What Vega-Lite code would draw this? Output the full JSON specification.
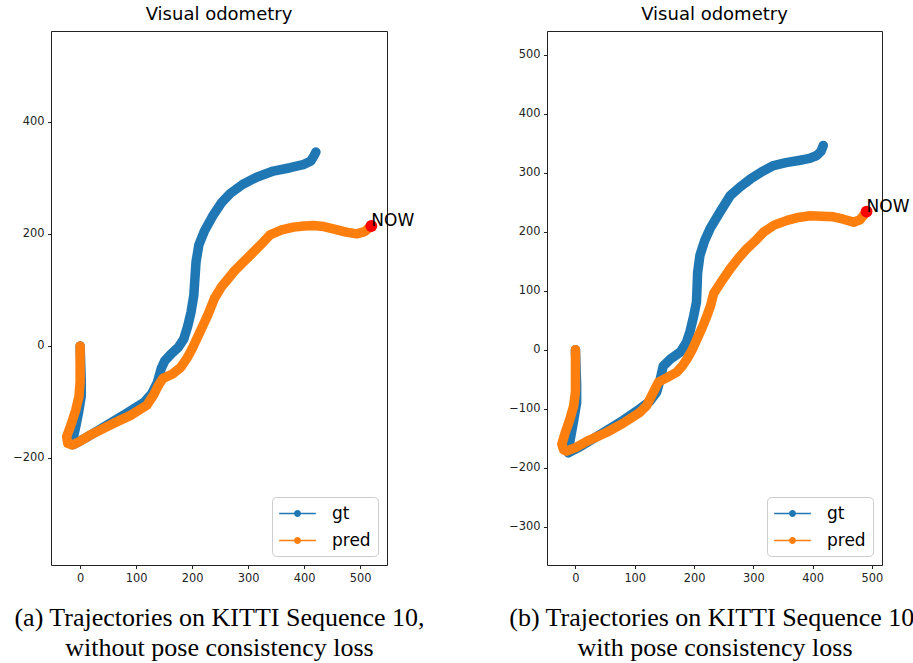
{
  "$schema": "https://vega.github.io/schema/vega-lite/v6.json",
  "autosize": {"type": "pad"},
  "padding": {"left": 12, "top": 5, "right": 0, "bottom": 0},
  "background": "white",
  "config": {
    "font": "DejaVu Sans",
    "view": {"stroke": "#222", "strokeWidth": 1},
    "axis": {
      "grid": false, "domain": false,
      "labelFont": "DejaVu Sans", "labelFontSize": 11.4, "labelColor": "#222",
      "tickColor": "#222", "tickSize": 3.5, "labelPadding": 3.5,
      "labelFlush": false, "labelOverlap": false,
      "titleFont": "Liberation Serif", "titleFontSize": 26, "titleFontWeight": "normal",
      "titleColor": "black", "titleLineHeight": 30, "titlePadding": 21
    },
    "title": {"font": "DejaVu Sans", "fontSize": 18, "fontWeight": "normal", "color": "black", "anchor": "middle", "baseline": "alphabetic", "offset": 7, "frame": "group"},
    "legend": {
      "orient": "bottom-right", "offset": 9, "title": null,
      "symbolType": "M-2.16,0H2.16M0.306,0A0.306,0.306,0,1,1,-0.306,0A0.306,0.306,0,1,1,0.306,0M0.106,0A0.106,0.106,0,1,1,-0.106,0A0.106,0.106,0,1,1,0.106,0",
      "symbolSize": 289, "symbolStrokeWidth": 1.7, "symbolOffset": 9,
      "labelFont": "DejaVu Sans", "labelFontSize": 17, "labelColor": "black", "labelOffset": 25,
      "padding": 7, "rowPadding": 9,
      "strokeColor": "#cccccc", "fillColor": "rgba(255,255,255,0.8)", "cornerRadius": 4
    }
  },
  "datasets": {
    "trajA": [
      {"i": 0, "series": "gt", "x": 0, "y": 0},
      {"i": 1, "series": "gt", "x": 1, "y": -30},
      {"i": 2, "series": "gt", "x": 2, "y": -60},
      {"i": 3, "series": "gt", "x": 2, "y": -90},
      {"i": 4, "series": "gt", "x": -3, "y": -120},
      {"i": 5, "series": "gt", "x": -8, "y": -145},
      {"i": 6, "series": "gt", "x": -13, "y": -168},
      {"i": 7, "series": "gt", "x": -12, "y": -176},
      {"i": 8, "series": "gt", "x": 10, "y": -164},
      {"i": 9, "series": "gt", "x": 40, "y": -146},
      {"i": 10, "series": "gt", "x": 80, "y": -122},
      {"i": 11, "series": "gt", "x": 115, "y": -100},
      {"i": 12, "series": "gt", "x": 128, "y": -85},
      {"i": 13, "series": "gt", "x": 138, "y": -65},
      {"i": 14, "series": "gt", "x": 145, "y": -40},
      {"i": 15, "series": "gt", "x": 151, "y": -27},
      {"i": 16, "series": "gt", "x": 162, "y": -15},
      {"i": 17, "series": "gt", "x": 175, "y": -3},
      {"i": 18, "series": "gt", "x": 185, "y": 12},
      {"i": 19, "series": "gt", "x": 192, "y": 35},
      {"i": 20, "series": "gt", "x": 198, "y": 60},
      {"i": 21, "series": "gt", "x": 203, "y": 90},
      {"i": 22, "series": "gt", "x": 205, "y": 120},
      {"i": 23, "series": "gt", "x": 207, "y": 150},
      {"i": 24, "series": "gt", "x": 212, "y": 180},
      {"i": 25, "series": "gt", "x": 222, "y": 205},
      {"i": 26, "series": "gt", "x": 238, "y": 234},
      {"i": 27, "series": "gt", "x": 252, "y": 255},
      {"i": 28, "series": "gt", "x": 268, "y": 272},
      {"i": 29, "series": "gt", "x": 290, "y": 288},
      {"i": 30, "series": "gt", "x": 315, "y": 301},
      {"i": 31, "series": "gt", "x": 345, "y": 312},
      {"i": 32, "series": "gt", "x": 375, "y": 318},
      {"i": 33, "series": "gt", "x": 400, "y": 324},
      {"i": 34, "series": "gt", "x": 412, "y": 330},
      {"i": 35, "series": "gt", "x": 418, "y": 340},
      {"i": 36, "series": "gt", "x": 421, "y": 346},
      {"i": 0, "series": "pred", "x": 0, "y": 0},
      {"i": 1, "series": "pred", "x": 0, "y": -30},
      {"i": 2, "series": "pred", "x": 0, "y": -64},
      {"i": 3, "series": "pred", "x": -2, "y": -90},
      {"i": 4, "series": "pred", "x": -8, "y": -115},
      {"i": 5, "series": "pred", "x": -16, "y": -140},
      {"i": 6, "series": "pred", "x": -24, "y": -162},
      {"i": 7, "series": "pred", "x": -22, "y": -174},
      {"i": 8, "series": "pred", "x": -14, "y": -177},
      {"i": 9, "series": "pred", "x": 0, "y": -170},
      {"i": 10, "series": "pred", "x": 20, "y": -158},
      {"i": 11, "series": "pred", "x": 54, "y": -141},
      {"i": 12, "series": "pred", "x": 90, "y": -124},
      {"i": 13, "series": "pred", "x": 119, "y": -106},
      {"i": 14, "series": "pred", "x": 131, "y": -88},
      {"i": 15, "series": "pred", "x": 140, "y": -70},
      {"i": 16, "series": "pred", "x": 148, "y": -58},
      {"i": 17, "series": "pred", "x": 165, "y": -50},
      {"i": 18, "series": "pred", "x": 180, "y": -38},
      {"i": 19, "series": "pred", "x": 192, "y": -20},
      {"i": 20, "series": "pred", "x": 200, "y": -5},
      {"i": 21, "series": "pred", "x": 214, "y": 25},
      {"i": 22, "series": "pred", "x": 228, "y": 55},
      {"i": 23, "series": "pred", "x": 240, "y": 85},
      {"i": 24, "series": "pred", "x": 252, "y": 105},
      {"i": 25, "series": "pred", "x": 262, "y": 117},
      {"i": 26, "series": "pred", "x": 274, "y": 132},
      {"i": 27, "series": "pred", "x": 290, "y": 148},
      {"i": 28, "series": "pred", "x": 304, "y": 162},
      {"i": 29, "series": "pred", "x": 320, "y": 178},
      {"i": 30, "series": "pred", "x": 339, "y": 198},
      {"i": 31, "series": "pred", "x": 360, "y": 207},
      {"i": 32, "series": "pred", "x": 381, "y": 212},
      {"i": 33, "series": "pred", "x": 400, "y": 214},
      {"i": 34, "series": "pred", "x": 417, "y": 215},
      {"i": 35, "series": "pred", "x": 435, "y": 213},
      {"i": 36, "series": "pred", "x": 452, "y": 209},
      {"i": 37, "series": "pred", "x": 475, "y": 203},
      {"i": 38, "series": "pred", "x": 494, "y": 200},
      {"i": 39, "series": "pred", "x": 508, "y": 204},
      {"i": 40, "series": "pred", "x": 520, "y": 214}
    ],
    "nowA": [{"x": 520, "y": 214, "label": "NOW"}],
    "trajB": [
      {"i": 0, "series": "gt", "x": 0, "y": 0},
      {"i": 1, "series": "gt", "x": 1, "y": -30},
      {"i": 2, "series": "gt", "x": 2, "y": -60},
      {"i": 3, "series": "gt", "x": 2, "y": -90},
      {"i": 4, "series": "gt", "x": -3, "y": -120},
      {"i": 5, "series": "gt", "x": -8, "y": -148},
      {"i": 6, "series": "gt", "x": -12, "y": -170},
      {"i": 7, "series": "gt", "x": -12, "y": -175},
      {"i": 8, "series": "gt", "x": 5, "y": -166},
      {"i": 9, "series": "gt", "x": 40, "y": -145},
      {"i": 10, "series": "gt", "x": 80, "y": -120},
      {"i": 11, "series": "gt", "x": 109, "y": -100},
      {"i": 12, "series": "gt", "x": 125, "y": -88},
      {"i": 13, "series": "gt", "x": 137, "y": -72},
      {"i": 14, "series": "gt", "x": 143, "y": -50},
      {"i": 15, "series": "gt", "x": 148, "y": -28},
      {"i": 16, "series": "gt", "x": 160, "y": -16},
      {"i": 17, "series": "gt", "x": 177, "y": -4},
      {"i": 18, "series": "gt", "x": 187, "y": 12},
      {"i": 19, "series": "gt", "x": 193, "y": 30},
      {"i": 20, "series": "gt", "x": 199, "y": 55},
      {"i": 21, "series": "gt", "x": 204, "y": 80},
      {"i": 22, "series": "gt", "x": 205, "y": 103},
      {"i": 23, "series": "gt", "x": 206, "y": 130},
      {"i": 24, "series": "gt", "x": 210, "y": 160},
      {"i": 25, "series": "gt", "x": 218, "y": 185},
      {"i": 26, "series": "gt", "x": 227, "y": 205},
      {"i": 27, "series": "gt", "x": 243, "y": 232},
      {"i": 28, "series": "gt", "x": 261, "y": 261},
      {"i": 29, "series": "gt", "x": 278, "y": 276},
      {"i": 30, "series": "gt", "x": 295, "y": 289},
      {"i": 31, "series": "gt", "x": 315, "y": 302},
      {"i": 32, "series": "gt", "x": 334, "y": 312},
      {"i": 33, "series": "gt", "x": 355, "y": 317},
      {"i": 34, "series": "gt", "x": 379, "y": 321},
      {"i": 35, "series": "gt", "x": 395, "y": 324},
      {"i": 36, "series": "gt", "x": 407, "y": 329},
      {"i": 37, "series": "gt", "x": 414, "y": 336},
      {"i": 38, "series": "gt", "x": 418, "y": 346},
      {"i": 0, "series": "pred", "x": 0, "y": 0},
      {"i": 1, "series": "pred", "x": 0, "y": -35},
      {"i": 2, "series": "pred", "x": 0, "y": -72},
      {"i": 3, "series": "pred", "x": -3, "y": -95},
      {"i": 4, "series": "pred", "x": -10, "y": -120},
      {"i": 5, "series": "pred", "x": -17, "y": -140},
      {"i": 6, "series": "pred", "x": -23, "y": -160},
      {"i": 7, "series": "pred", "x": -20, "y": -170},
      {"i": 8, "series": "pred", "x": -15, "y": -172},
      {"i": 9, "series": "pred", "x": 0, "y": -166},
      {"i": 10, "series": "pred", "x": 20, "y": -155},
      {"i": 11, "series": "pred", "x": 53, "y": -140},
      {"i": 12, "series": "pred", "x": 80, "y": -125},
      {"i": 13, "series": "pred", "x": 109, "y": -106},
      {"i": 14, "series": "pred", "x": 120, "y": -95},
      {"i": 15, "series": "pred", "x": 130, "y": -75},
      {"i": 16, "series": "pred", "x": 140, "y": -55},
      {"i": 17, "series": "pred", "x": 155, "y": -47},
      {"i": 18, "series": "pred", "x": 171, "y": -38},
      {"i": 19, "series": "pred", "x": 180, "y": -28},
      {"i": 20, "series": "pred", "x": 188, "y": -16},
      {"i": 21, "series": "pred", "x": 197, "y": 0},
      {"i": 22, "series": "pred", "x": 205, "y": 18},
      {"i": 23, "series": "pred", "x": 214, "y": 38},
      {"i": 24, "series": "pred", "x": 222, "y": 58},
      {"i": 25, "series": "pred", "x": 228, "y": 75},
      {"i": 26, "series": "pred", "x": 233, "y": 95},
      {"i": 27, "series": "pred", "x": 246, "y": 115},
      {"i": 28, "series": "pred", "x": 261, "y": 137},
      {"i": 29, "series": "pred", "x": 275, "y": 155},
      {"i": 30, "series": "pred", "x": 289, "y": 171},
      {"i": 31, "series": "pred", "x": 305, "y": 186},
      {"i": 32, "series": "pred", "x": 317, "y": 199},
      {"i": 33, "series": "pred", "x": 335, "y": 211},
      {"i": 34, "series": "pred", "x": 357, "y": 219},
      {"i": 35, "series": "pred", "x": 376, "y": 224},
      {"i": 36, "series": "pred", "x": 396, "y": 227},
      {"i": 37, "series": "pred", "x": 415, "y": 226},
      {"i": 38, "series": "pred", "x": 435, "y": 225},
      {"i": 39, "series": "pred", "x": 452, "y": 221},
      {"i": 40, "series": "pred", "x": 469, "y": 216},
      {"i": 41, "series": "pred", "x": 480, "y": 220},
      {"i": 42, "series": "pred", "x": 491, "y": 234}
    ],
    "nowB": [{"x": 491, "y": 234, "label": "NOW"}]
  },
  "hconcat": [
    {
      "width": 336, "height": 534,
      "title": "Visual odometry",
      "layer": [
        {
          "data": {"name": "trajA"},
          "mark": {"type": "line", "strokeWidth": 9.5, "strokeCap": "round", "strokeJoin": "round"},
          "encoding": {
            "x": {"field": "x", "type": "quantitative", "scale": {"domain": [-52, 548], "nice": false, "zero": false},
                  "axis": {"values": [0, 100, 200, 300, 400, 500], "title": ["(a) Trajectories on KITTI Sequence 10,", "without pose consistency loss"]}},
            "y": {"field": "y", "type": "quantitative", "scale": {"domain": [-391, 562], "nice": false, "zero": false},
                  "axis": {"values": [-200, 0, 200, 400], "title": null}},
            "color": {"field": "series", "type": "nominal", "scale": {"domain": ["gt", "pred"], "range": ["#1f77b4", "#ff7f0e"]}},
            "order": {"field": "i", "type": "quantitative"}
          }
        },
        {
          "data": {"name": "nowA"},
          "mark": {"type": "point", "filled": true, "color": "red", "size": 140, "opacity": 1},
          "encoding": {"x": {"field": "x", "type": "quantitative"}, "y": {"field": "y", "type": "quantitative"}}
        },
        {
          "data": {"name": "nowA"},
          "mark": {"type": "text", "align": "left", "baseline": "alphabetic", "fontSize": 17, "font": "DejaVu Sans", "color": "black"},
          "encoding": {"x": {"field": "x", "type": "quantitative"}, "y": {"field": "y", "type": "quantitative"}, "text": {"field": "label"}}
        }
      ]
    },
    {
      "width": 335, "height": 534,
      "title": "Visual odometry",
      "layer": [
        {
          "data": {"name": "trajB"},
          "mark": {"type": "line", "strokeWidth": 9.5, "strokeCap": "round", "strokeJoin": "round"},
          "encoding": {
            "x": {"field": "x", "type": "quantitative", "scale": {"domain": [-48, 517], "nice": false, "zero": false},
                  "axis": {"values": [0, 100, 200, 300, 400, 500], "title": ["(b) Trajectories on KITTI Sequence 10,", "with pose consistency loss"]}},
            "y": {"field": "y", "type": "quantitative", "scale": {"domain": [-365, 540], "nice": false, "zero": false},
                  "axis": {"values": [-300, -200, -100, 0, 100, 200, 300, 400, 500], "title": null}},
            "color": {"field": "series", "type": "nominal", "scale": {"domain": ["gt", "pred"], "range": ["#1f77b4", "#ff7f0e"]}},
            "order": {"field": "i", "type": "quantitative"}
          }
        },
        {
          "data": {"name": "nowB"},
          "mark": {"type": "point", "filled": true, "color": "red", "size": 140, "opacity": 1},
          "encoding": {"x": {"field": "x", "type": "quantitative"}, "y": {"field": "y", "type": "quantitative"}}
        },
        {
          "data": {"name": "nowB"},
          "mark": {"type": "text", "align": "left", "baseline": "alphabetic", "fontSize": 17, "font": "DejaVu Sans", "color": "black"},
          "encoding": {"x": {"field": "x", "type": "quantitative"}, "y": {"field": "y", "type": "quantitative"}, "text": {"field": "label"}}
        }
      ]
    }
  ],
  "spacing": 160,
  "bounds": "flush",
  "resolve": {"scale": {"color": "independent"}, "legend": {"color": "independent"}}
}
